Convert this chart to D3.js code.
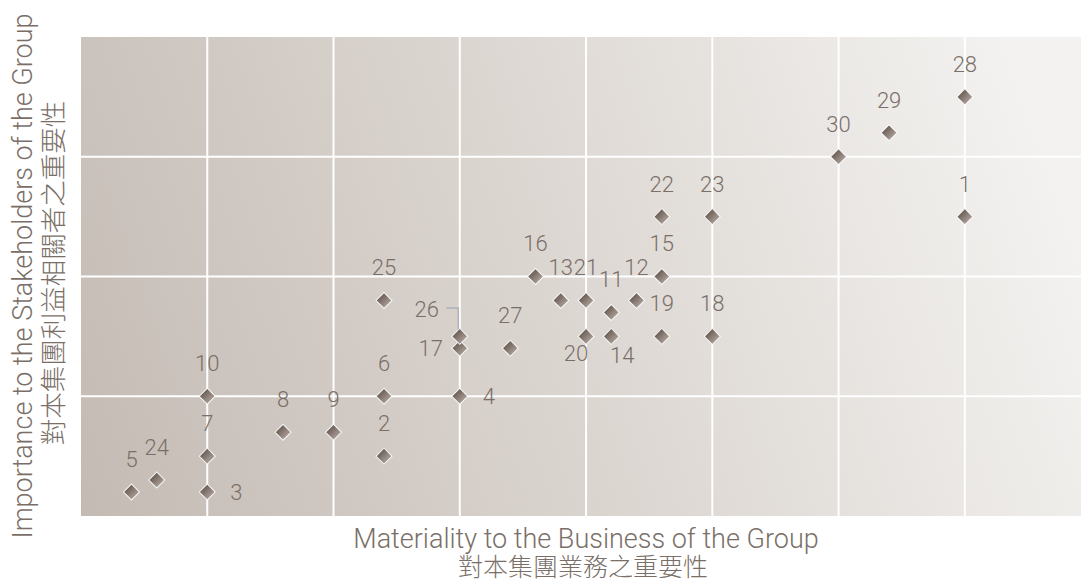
<!DOCTYPE html>
<html>
<head>
<meta charset="utf-8">
<script src="https://cdn.jsdelivr.net/npm/d3@7"></script>
<style>
  body { margin: 0; background: #fff; }
  text { font-family: "Roboto", "Noto Sans CJK TC", sans-serif; font-weight: 300; fill: #7a6f68; }
  .cjk { font-family: "Noto Sans CJK TC", sans-serif; font-weight: 300; }
</style>
</head>
<body>
<script>
// issue numbers and their scores
var ids        = [1, 2, 3, 4, 5, 6, 7, 8, 9, 10, 11, 12, 13, 14, 15, 16, 17, 18, 19, 20, 21, 22, 23, 24, 25, 26, 27, 28, 29, 30];
var materiality = [7, 2.4, 1, 3, 0.4, 2.4, 1, 1.6, 2, 1, 4.2, 4.4, 3.8, 4.2, 4.6, 3.6, 3, 5, 4.6, 4, 4, 4.6, 5, 0.6, 2.4, 3, 3.4, 7, 6.4, 6];
var importance  = [2.5, 0.5, 0.2, 1, 0.2, 1, 0.5, 0.7, 0.7, 1, 1.7, 1.8, 1.8, 1.5, 2, 2, 1.4, 1.5, 1.5, 1.5, 1.8, 2.5, 2.5, 0.3, 1.8, 1.5, 1.4, 3.5, 3.2, 3];
var xGrid = [1, 2, 3, 4, 5, 6, 7];
var yGrid = [1, 2, 3];
var xTitle = ["Materiality to the Business of the Group", "對本集團業務之重要性"];
var yTitle = ["Importance to the Stakeholders of the Group", "對本集團利益相關者之重要性"];

// where the number sits relative to its marker (default: above)
var labelSpots = {3: [29, 0], 4: [29, 0], 17: [-29, 0], 26: [-33, -27], 20: [-10, 17], 14: [11, 19]};

var width = 1081, height = 585;

var x = d3.scaleLinear().domain([0, 7.92]).range([81, 1081]);
var y = d3.scaleLinear().domain([0, 4]).range([516, 37]);

var svg = d3.select("body").append("svg")
    .attr("width", width)
    .attr("height", height);

var defs = svg.append("defs");

// background fades from left (dark) to right (light), slightly tilted
var bg = defs.append("linearGradient")
    .attr("id", "bg")
    .attr("gradientUnits", "userSpaceOnUse")
    .attr("x1", 81).attr("y1", 600)
    .attr("x2", 1081).attr("y2", 250);
bg.append("stop").attr("offset", "0").attr("stop-color", "#c2b9b2");
bg.append("stop").attr("offset", "0.5").attr("stop-color", "#dbd5d0");
bg.append("stop").attr("offset", "1").attr("stop-color", "#f3f2f0");

var mk = defs.append("linearGradient")
    .attr("id", "mk")
    .attr("x1", "0").attr("y1", "0")
    .attr("x2", "1").attr("y2", "0");
mk.append("stop").attr("offset", "0").attr("stop-color", "#6a5e57");
mk.append("stop").attr("offset", "1").attr("stop-color", "#a89c94");

// plot background
svg.append("rect")
   .attr("x", x(0))
   .attr("y", y(4))
   .attr("width", width - x(0))
   .attr("height", y(0) - y(4))
   .attr("fill", "url(#bg)");

// grid lines
svg.append("g").selectAll("line")
   .data(xGrid)
   .join("line")
   .attr("x1", function(d) { return x(d); })
   .attr("x2", function(d) { return x(d); })
   .attr("y1", y(4))
   .attr("y2", y(0))
   .attr("stroke", "#fff")
   .attr("stroke-width", 2);

svg.append("g").selectAll("line")
   .data(yGrid)
   .join("line")
   .attr("x1", x(0))
   .attr("x2", width)
   .attr("y1", function(d) { return y(d); })
   .attr("y2", function(d) { return y(d); })
   .attr("stroke", "#fff")
   .attr("stroke-width", 2);

var points = ids.map(function(id, i) {
  return {id: id, mx: materiality[i], im: importance[i]};
});

// leader line for 26
var p26 = points.find(function(d) { return d.id === 26; });
svg.append("path")
   .attr("fill", "none")
   .attr("stroke", "#adb1b9")
   .attr("stroke-width", 1.5)
   .attr("d", d3.line()([
     [x(p26.mx) - 13.5, y(p26.im) - 28.5],
     [x(p26.mx) - 1.5, y(p26.im) - 28.5],
     [x(p26.mx) - 1.5, y(p26.im) - 3]
   ]));

// markers
svg.append("g").selectAll("path")
   .data(points)
   .join("path")
   .attr("d", d3.symbol(d3.symbolSquare).size(128))
   .attr("transform", function(d) { return "translate(" + x(d.mx) + "," + y(d.im) + ") rotate(45)"; })
   .attr("fill", "url(#mk)")
   .attr("stroke", "#fff")
   .attr("stroke-opacity", 0.9)
   .attr("stroke-width", 1);

// number labels
svg.append("g").selectAll("text")
   .data(points)
   .join("text")
   .attr("x", function(d) { return x(d.mx) + (labelSpots[d.id] ? labelSpots[d.id][0] : 0); })
   .attr("y", function(d) { return y(d.im) + (labelSpots[d.id] ? labelSpots[d.id][1] : -33); })
   .attr("dy", "0.36em")
   .attr("text-anchor", "middle")
   .style("font-size", "22px")
   .text(function(d) { return d.id; });

// X title
svg.append("text")
   .attr("x", 586)
   .attr("y", 548)
   .attr("text-anchor", "middle")
   .style("font-size", "27px")
   .text(xTitle[0]);
svg.append("text")
   .attr("class", "cjk")
   .attr("x", 583)
   .attr("y", 576)
   .attr("text-anchor", "middle")
   .style("font-size", "25px")
   .text(xTitle[1]);

// Y title
svg.append("text")
   .attr("transform", "rotate(-90)")
   .attr("x", -276)
   .attr("y", 32)
   .attr("text-anchor", "middle")
   .style("font-size", "27px")
   .text(yTitle[0]);
svg.append("text")
   .attr("class", "cjk")
   .attr("transform", "rotate(-90)")
   .attr("x", -273)
   .attr("y", 63)
   .attr("text-anchor", "middle")
   .style("font-size", "26.5px")
   .text(yTitle[1]);
</script>
</body>
</html>
